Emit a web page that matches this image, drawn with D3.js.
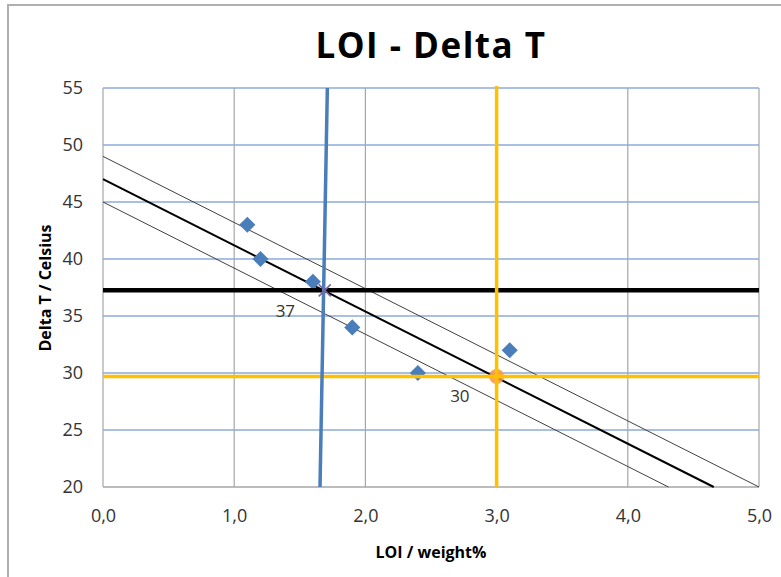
<!DOCTYPE html>
<meta charset="utf-8">
<style>
  body { margin: 0; background: #fff; }
  text { font-family: "Open Sans", Lato, sans-serif; }
</style>
<svg width="781" height="577"></svg>
<script src="https://cdn.jsdelivr.net/npm/d3@7"></script>
<script>
// measured points
var loi = [1.1, 1.2, 1.6, 1.9, 2.4, 3.1]
var deltaT = [43, 40, 38, 34, 30, 32]

// regression line and its band (x, y end points)
var fitLine = [[0, 47], [4.655, 20]]
var upperLine = [[0, 49], [5.0, 20]]
var lowerLine = [[0, 45], [4.31, 20]]

// reading lines
var blueLine = [[1.654, 20], [1.71, 55]]
var blackLevel = 37.25
var orangeX = 3.0
var orangeLevel = 29.7
var crossPoint = [1.69, 37.25]
var orangePoint = [3.0, 29.7]
var labels = [{ x: 1.39, y: 34.9, t: "37" }, { x: 2.72, y: 27.5, t: "30" }]

var xTicks = [0, 1, 2, 3, 4, 5]
var yTicks = [20, 25, 30, 35, 40, 45, 50, 55]

var svg = d3.select("svg")
var mLeft = 103, mRight = 759, mTop = 88, mBottom = 487

var x = d3.scaleLinear().domain([0, 5]).range([mLeft, mRight])
var y = d3.scaleLinear().domain([20, 55]).range([mBottom, mTop])

// outer chart frame
svg.append("rect")
  .attr("x", 8).attr("y", 5).attr("width", 790).attr("height", 600)
  .attr("fill", "none").attr("stroke", "#b0b0b0").attr("stroke-width", 2)

svg.append("text")
  .attr("x", 431).attr("y", 58)
  .attr("text-anchor", "middle")
  .attr("font-size", 35).attr("font-weight", "bold")
  .attr("letter-spacing", 1.5)
  .attr("fill", "#000")
  .text("LOI - Delta T")

// grid
svg.append("g").selectAll("line").data(xTicks).enter().append("line")
  .attr("x1", d => x(d)).attr("x2", d => x(d))
  .attr("y1", mTop).attr("y2", mBottom)
  .attr("stroke", "#a6a6a6").attr("stroke-width", 1.2)
svg.append("g").selectAll("line").data(yTicks).enter().append("line")
  .attr("x1", mLeft).attr("x2", mRight)
  .attr("y1", d => y(d)).attr("y2", d => y(d))
  .attr("stroke", d => d === 20 ? "#a6a6a6" : "#8eaadb").attr("stroke-width", 1.4)

// axis tick labels
var xAxis = svg.append("g")
  .attr("transform", "translate(0," + (mBottom + 19) + ")")
  .call(d3.axisBottom(x).tickValues(xTicks).tickSize(0).tickFormat(d => d3.format(".1f")(d).replace(".", ",")))
xAxis.select(".domain").remove()
xAxis.selectAll("text").attr("font-size", 18).attr("fill", "#333")
  .attr("font-family", "'Open Sans', sans-serif")

var yAxis = svg.append("g")
  .attr("transform", "translate(" + (mLeft - 17) + ",0)")
  .call(d3.axisLeft(y).tickValues(yTicks).tickSize(0))
yAxis.select(".domain").remove()
yAxis.selectAll("text").attr("font-size", 18).attr("fill", "#333")
  .attr("font-family", "'Open Sans', sans-serif")

svg.append("text")
  .attr("x", 431).attr("y", 558)
  .attr("text-anchor", "middle")
  .attr("font-size", 16).attr("font-weight", "bold")
  .text("LOI / weight%")

svg.append("text")
  .attr("transform", "translate(51,288) rotate(-90)")
  .attr("text-anchor", "middle")
  .attr("font-size", 16).attr("font-weight", "bold")
  .text("Delta T / Celsius")

var line = d3.line().x(d => x(d[0])).y(d => y(d[1]))

// band lines and fit
svg.append("path").datum(upperLine).attr("d", line)
  .attr("stroke", "#404040").attr("stroke-width", 1).attr("fill", "none")
svg.append("path").datum(lowerLine).attr("d", line)
  .attr("stroke", "#404040").attr("stroke-width", 1).attr("fill", "none")
svg.append("path").datum(fitLine).attr("d", line)
  .attr("stroke", "#000").attr("stroke-width", 2).attr("fill", "none")

// diamonds
svg.append("g").selectAll("path").data(loi).enter().append("path")
  .attr("d", d3.symbol().type(d3.symbolSquare).size(130))
  .attr("transform", (d, i) => "translate(" + x(d) + "," + y(deltaT[i]) + ") rotate(45)")
  .attr("fill", "#4a7ebb")

// reading lines
svg.append("line")
  .attr("x1", mLeft).attr("x2", mRight)
  .attr("y1", y(blackLevel)).attr("y2", y(blackLevel))
  .attr("stroke", "#000").attr("stroke-width", 4.5)
svg.append("line")
  .attr("x1", mLeft).attr("x2", mRight)
  .attr("y1", y(orangeLevel)).attr("y2", y(orangeLevel))
  .attr("stroke", "#ffc000").attr("stroke-width", 3.5)
svg.append("line")
  .attr("x1", x(orangeX)).attr("x2", x(orangeX))
  .attr("y1", y(20)).attr("y2", y(55) - 2)
  .attr("stroke", "#ffc000").attr("stroke-width", 3.5)
svg.append("path").datum(blueLine).attr("d", line)
  .attr("stroke", "#4a7ebb").attr("stroke-width", 3.5).attr("fill", "none")

// intersection markers
svg.append("circle")
  .attr("cx", x(orangePoint[0])).attr("cy", y(orangePoint[1])).attr("r", 7.5)
  .attr("fill", "#f79646").attr("opacity", 0.85)
svg.append("line")
  .attr("x1", x(orangeX)).attr("x2", x(orangeX))
  .attr("y1", y(orangePoint[1]) - 8).attr("y2", y(orangePoint[1]) + 8)
  .attr("stroke", "#ffc000").attr("stroke-width", 3.5)
svg.append("line")
  .attr("x1", x(orangeX) - 8).attr("x2", x(orangeX) + 8)
  .attr("y1", y(orangePoint[1])).attr("y2", y(orangePoint[1]))
  .attr("stroke", "#ffc000").attr("stroke-width", 3.5)

var cx = x(crossPoint[0]), cy = y(crossPoint[1])
svg.append("path")
  .attr("d", "M" + (cx - 6) + "," + (cy - 6) + "L" + (cx + 6) + "," + (cy + 6) +
    "M" + (cx + 6) + "," + (cy - 6) + "L" + (cx - 6) + "," + (cy + 6))
  .attr("stroke", "#7f5fa0").attr("stroke-width", 1.5)

svg.append("g").selectAll("text").data(labels).enter().append("text")
  .attr("x", d => x(d.x)).attr("y", d => y(d.y))
  .attr("text-anchor", "middle")
  .attr("font-size", 17).attr("fill", "#333")
  .text(d => d.t)
</script>
